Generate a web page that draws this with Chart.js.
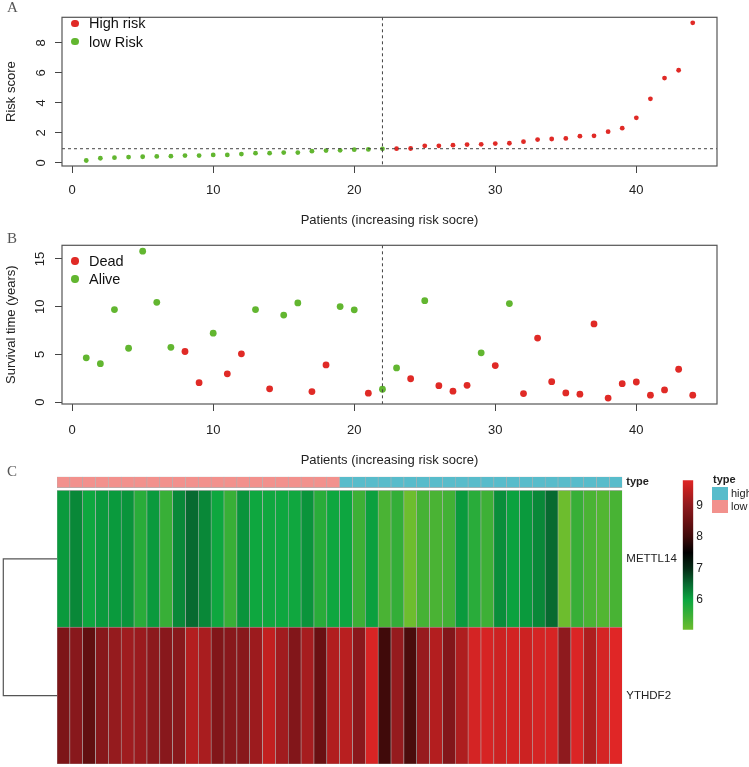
<!DOCTYPE html>
<html>
<head>
<meta charset="utf-8">
<script src="https://cdn.jsdelivr.net/npm/chart.js@4.4.1/dist/chart.umd.min.js"></script>
<style>
  body { margin: 0; background: #fff; }
  #fig { position: relative; width: 749px; height: 767px; overflow: hidden; font-family: "Liberation Sans", Arial, sans-serif; color: #222; }
  canvas { position: absolute; }
  .tag { position: absolute; left: 7px; font-family: "Liberation Serif", serif; font-size: 15px; line-height: 15px; color: #555; }
  .leg { position: absolute; left: 89px; font-size: 14.5px; line-height: 18px; color: #111; }
  .dot { position: absolute; width: 7.4px; height: 7.4px; border-radius: 50%; left: 71.3px; }
  .key { position: absolute; font-size: 11px; line-height: 13px; color: #222; }
  .box { position: absolute; left: 712px; width: 16px; height: 13px; }
</style>
</head>
<body>
<div id="fig">
  <canvas id="riskChart" width="749" height="230" style="left:0;top:0"></canvas>
  <canvas id="survChart" width="749" height="240" style="left:0;top:230px"></canvas>
  <canvas id="heatChart" width="749" height="297" style="left:0;top:470px"></canvas>
  <canvas id="barChart" width="30" height="170" style="left:680px;top:470px"></canvas>

  <div class="tag" style="top:0">A</div>
  <div class="tag" style="top:231px">B</div>
  <div class="tag" style="top:464px">C</div>

  <div class="dot" style="top:19.6px;background:#e02a26"></div>
  <div class="leg" style="top:14px">High risk</div>
  <div class="dot" style="top:38px;background:#62b630"></div>
  <div class="leg" style="top:32.5px">low Risk</div>

  <div class="dot" style="top:257.3px;background:#e02a26"></div>
  <div class="leg" style="top:252px">Dead</div>
  <div class="dot" style="top:275.3px;background:#62b630"></div>
  <div class="leg" style="top:270px">Alive</div>

  <div class="key" style="left:713px;top:473px;font-weight:bold">type</div>
  <div class="box" style="top:487px;background:#58bccb"></div>
  <div class="key" style="left:731px;top:487px">high</div>
  <div class="box" style="top:500px;background:#f2918d"></div>
  <div class="key" style="left:731px;top:500px">low</div>
</div>

<script>
// patients are sorted by increasing risk score
const riskScore = [0.16, 0.31, 0.35, 0.39, 0.41, 0.43, 0.45, 0.49, 0.49, 0.53, 0.53, 0.59, 0.65, 0.65, 0.69,
  0.69, 0.78, 0.82, 0.84, 0.88, 0.90, 0.94, 0.95, 0.96, 1.14, 1.14, 1.18, 1.22, 1.24, 1.29, 1.31, 1.41,
  1.55, 1.59, 1.63, 1.78, 1.80, 2.08, 2.31, 3.00, 4.27, 5.65, 6.17, 9.33];
const riskCutoff = 0.945;

const survivalYears = [4.64, 4.02, 9.70, 5.64, 15.82, 10.46, 5.74, 5.30, 2.03, 7.22, 2.96, 5.06, 9.70, 1.38,
  9.12, 10.39, 1.10, 3.89, 10.01, 9.67, 0.93, 1.34, 3.58, 2.44, 10.63, 1.72, 1.14, 1.75, 5.16, 3.82, 10.32,
  0.89, 6.71, 2.13, 0.96, 0.82, 8.19, 0.41, 1.93, 2.10, 0.72, 1.27, 3.44, 0.72];
// 1 = dead, 0 = alive
const status = [0, 0, 0, 0, 0, 0, 0, 1, 1, 0, 1, 1, 0, 1, 0, 0, 1, 1, 0, 0, 1, 0, 0, 1, 0, 1, 1, 1, 0, 1, 0,
  1, 1, 1, 1, 1, 1, 1, 1, 1, 1, 1, 1, 1];

// expression per patient (heatmap)
const METTL14 = [6.10, 6.25, 5.97, 6.10, 6.10, 6.15, 5.70, 6.10, 5.55, 6.25, 6.50, 6.25, 5.97, 5.55, 6.15,
  5.97, 5.95, 5.97, 5.95, 6.15, 5.70, 5.97, 5.98, 5.50, 6.05, 5.38, 5.60, 5.05, 5.42, 5.38, 5.45, 6.10,
  5.70, 5.50, 6.20, 6.03, 6.10, 6.25, 6.50, 5.05, 5.55, 5.38, 5.30, 5.40];
const YTHDF2 = [8.75, 8.90, 8.40, 8.88, 9.05, 9.15, 9.10, 8.95, 8.90, 8.90, 9.35, 9.25, 8.80, 8.90, 8.90,
  9.12, 9.50, 9.17, 8.82, 9.22, 8.50, 9.33, 9.40, 8.92, 9.72, 8.02, 9.05, 8.15, 9.07, 9.35, 8.82, 9.30,
  9.68, 9.70, 9.60, 9.66, 9.60, 9.68, 9.70, 8.98, 9.75, 9.30, 9.68, 9.80];

const xTicks = [0, 10, 20, 30, 40];
const riskTicks = [0, 2, 4, 6, 8];
const survTicks = [0, 5, 10, 15];
const barTicks = [6, 7, 8, 9];

// styles
const RED = '#e02a26', GREEN = '#62b630';
const INK = '#222', AXIS = '#444';
const palette = [[5.05, '#6dbd2e'], [5.5, '#3db036'], [6.0, '#0ba640'], [6.5, '#076a30'], [7.0, '#032a14'],
  [7.5, '#000000'], [8.0, '#3e0a0a'], [8.5, '#6a1012'], [9.0, '#901a1e'], [9.5, '#c22020'], [9.8, '#e02626']];
const typeColor = { high: '#58bccb', low: '#f2918d' };

const patients = riskScore.map((_, i) => i + 1);
const riskType = riskScore.map(v => (v > riskCutoff ? 'high' : 'low'));
const lowCount = riskType.filter(t => t === 'low').length;

function rgb(hex) {
  const n = parseInt(hex.slice(1), 16);
  return [(n >> 16) & 255, (n >> 8) & 255, n & 255];
}
function heatColor(v) {
  if (v <= palette[0][0]) return palette[0][1];
  for (let i = 1; i < palette.length; i++) {
    const [v1, c1] = palette[i];
    if (v <= v1) {
      const [v0, c0] = palette[i - 1];
      const t = (v - v0) / (v1 - v0);
      const a = rgb(c0), b = rgb(c1);
      return 'rgb(' + a.map((x, k) => Math.round(x + (b[k] - x) * t)).join(',') + ')';
    }
  }
  return palette[palette.length - 1][1];
}

// R style axis range: data range plus 4% on each side
function rRange(vals) {
  const lo = Math.min(...vals), hi = Math.max(...vals);
  const d = (hi - lo) * 0.04;
  return [lo - d, hi + d];
}

const framePlugin = {
  id: 'frame',
  afterDraw(chart) {
    const { ctx, chartArea: a } = chart;
    ctx.save();
    ctx.strokeStyle = '#555';
    ctx.lineWidth = 1.2;
    ctx.strokeRect(a.left, a.top, a.right - a.left, a.bottom - a.top);
    ctx.restore();
  }
};

const guidePlugin = {
  id: 'guides',
  afterDatasetsDraw(chart, args, opts) {
    const { ctx, chartArea: a, scales } = chart;
    ctx.save();
    ctx.strokeStyle = '#444';
    ctx.lineWidth = 1;
    ctx.setLineDash([3, 3]);
    if (opts.vx != null) {
      const x = scales.x.getPixelForValue(opts.vx);
      ctx.beginPath(); ctx.moveTo(x, a.top); ctx.lineTo(x, a.bottom); ctx.stroke();
    }
    if (opts.hy != null) {
      const y = scales.y.getPixelForValue(opts.hy);
      ctx.beginPath(); ctx.moveTo(a.left, y); ctx.lineTo(a.right, y); ctx.stroke();
    }
    ctx.restore();
  }
};

function scatterPanel(id, sets, yVals, yTickVals, yTitle, radius, yPad, top, axisH, xPad, guides) {
  const [xMin, xMax] = rRange(patients);
  const [yMin, yMax] = rRange(yVals);
  const font = { family: '"Liberation Sans", Arial, sans-serif', size: 13 };
  return new Chart(document.getElementById(id), {
    type: 'scatter',
    data: {
      datasets: sets.map(s => ({
        label: s.label,
        data: s.data,
        backgroundColor: s.color,
        borderWidth: 0,
        pointRadius: radius,
        pointHoverRadius: radius
      }))
    },
    options: {
      responsive: false,
      animation: false,
      events: [],
      layout: { padding: { top: top, right: 32, left: 0, bottom: 0 } },
      plugins: { legend: { display: false }, tooltip: { enabled: false }, guides: guides },
      scales: {
        x: {
          type: 'linear', min: xMin, max: xMax,
          afterBuildTicks: s => { s.ticks = xTicks.map(v => ({ value: v })); },
          afterFit: s => { s.height = axisH; },
          grid: { drawOnChartArea: false, drawTicks: true, tickLength: 7, color: AXIS, lineWidth: 1 },
          border: { display: false },
          ticks: { color: INK, font: font, padding: xPad, maxRotation: 0 },
          title: { display: true, text: 'Patients (increasing risk socre)', color: INK, font: font, padding: { top: 4, bottom: 2 } }
        },
        y: {
          type: 'linear', min: yMin, max: yMax,
          afterBuildTicks: s => { s.ticks = yTickVals.map(v => ({ value: v })); },
          afterFit: s => { s.width = 62; },
          grid: { drawOnChartArea: false, drawTicks: true, tickLength: 7, color: AXIS, lineWidth: 1 },
          border: { display: false },
          ticks: { color: INK, font: font, padding: yPad, minRotation: 90, maxRotation: 90, crossAlign: 'center' },
          title: { display: true, text: yTitle, color: INK, font: font, padding: { top: 4, bottom: 4 } }
        }
      }
    },
    plugins: [framePlugin, guidePlugin]
  });
}

const pointsOf = (vals, keep) => vals.map((v, i) => ({ x: patients[i], y: v })).filter((p, i) => keep(i));

scatterPanel('riskChart', [
  { label: 'High risk', color: RED, data: pointsOf(riskScore, i => riskType[i] === 'high') },
  { label: 'low Risk', color: GREEN, data: pointsOf(riskScore, i => riskType[i] === 'low') }
], riskScore, riskTicks, 'Risk score', 2.4, 9.5, 5, 64, 10, { vx: lowCount, hy: riskCutoff });

scatterPanel('survChart', [
  { label: 'Dead', color: RED, data: pointsOf(survivalYears, i => status[i] === 1) },
  { label: 'Alive', color: GREEN, data: pointsOf(survivalYears, i => status[i] === 0) }
], survivalYears, survTicks, 'Survival time (years)', 3.4, 7.5, 13.3, 66, 12, { vx: lowCount });

// heatmap: rows drawn as floating bars, one per patient
const typeBand = [2.02, 2.1];
const heatRows = [
  { label: 'YTHDF2', band: [0, 1], values: YTHDF2 },
  { label: 'METTL14', band: [1, 2], values: METTL14 }
];

const rowLabelPlugin = {
  id: 'rowLabels',
  afterDraw(chart) {
    const { ctx, chartArea: a, scales: { y } } = chart;
    ctx.save();
    ctx.fillStyle = INK;
    ctx.textBaseline = 'middle';
    ctx.textAlign = 'left';
    ctx.font = 'bold 11px "Liberation Sans", Arial, sans-serif';
    ctx.fillText('type', a.right + 4, y.getPixelForValue((typeBand[0] + typeBand[1]) / 2));
    ctx.font = '11.5px "Liberation Sans", Arial, sans-serif';
    heatRows.forEach(r => ctx.fillText(r.label, a.right + 4, y.getPixelForValue((r.band[0] + r.band[1]) / 2)));
    // dendrogram joining the two genes
    const y1 = y.getPixelForValue(1.5), y2 = y.getPixelForValue(0.5), x0 = 3.3;
    ctx.strokeStyle = '#555';
    ctx.lineWidth = 1.2;
    ctx.beginPath();
    ctx.moveTo(a.left, y1); ctx.lineTo(x0, y1); ctx.lineTo(x0, y2); ctx.lineTo(a.left, y2);
    ctx.stroke();
    ctx.restore();
  }
};

const cellStyle = {
  barPercentage: 1, categoryPercentage: 1, grouped: false,
  borderWidth: 0.6, borderColor: '#b0b0b0', borderSkipped: false
};

new Chart(document.getElementById('heatChart'), {
  type: 'bar',
  data: {
    labels: patients,
    datasets: [
      Object.assign({ label: 'type', data: patients.map(() => typeBand), backgroundColor: riskType.map(t => typeColor[t]) }, cellStyle)
    ].concat(heatRows.map(r => Object.assign({
      label: r.label,
      data: patients.map(() => r.band),
      backgroundColor: r.values.map(heatColor)
    }, cellStyle)))
  },
  options: {
    responsive: false,
    animation: false,
    events: [],
    layout: { padding: { left: 57, right: 126.7, top: 6.7, bottom: 3 } },
    plugins: { legend: { display: false }, tooltip: { enabled: false } },
    scales: {
      x: { display: false },
      y: { display: false, min: 0, max: typeBand[1] }
    }
  },
  plugins: [rowLabelPlugin]
});

// colour key
const allExpr = METTL14.concat(YTHDF2);
const cbMin = Math.min(...allExpr), cbMax = Math.max(...allExpr);

new Chart(document.getElementById('barChart'), {
  type: 'bar',
  data: {
    labels: [''],
    datasets: [{
      data: [[cbMin, cbMax]],
      barPercentage: 1, categoryPercentage: 1, borderWidth: 0,
      backgroundColor: ctx => {
        const chart = ctx.chart;
        if (!chart.chartArea) return null;
        const y = chart.scales.y;
        const g = chart.ctx.createLinearGradient(0, y.getPixelForValue(cbMin), 0, y.getPixelForValue(cbMax));
        palette.forEach(([v, c]) => {
          const t = Math.min(1, Math.max(0, (v - cbMin) / (cbMax - cbMin)));
          g.addColorStop(t, c);
        });
        return g;
      }
    }]
  },
  options: {
    responsive: false,
    animation: false,
    events: [],
    layout: { padding: { left: 2.7, right: 0, top: 5.7, bottom: 9 } },
    plugins: { legend: { display: false }, tooltip: { enabled: false } },
    scales: {
      x: { display: false },
      y: {
        position: 'right', min: cbMin, max: cbMax,
        afterBuildTicks: s => { s.ticks = barTicks.map(v => ({ value: v })); },
        afterFit: s => { s.width = 16.7; },
        grid: { display: false, drawTicks: false },
        border: { display: false },
        ticks: { color: INK, font: { family: '"Liberation Sans", Arial, sans-serif', size: 12 }, padding: 3 }
      }
    }
  }
});
</script>
</body>
</html>
